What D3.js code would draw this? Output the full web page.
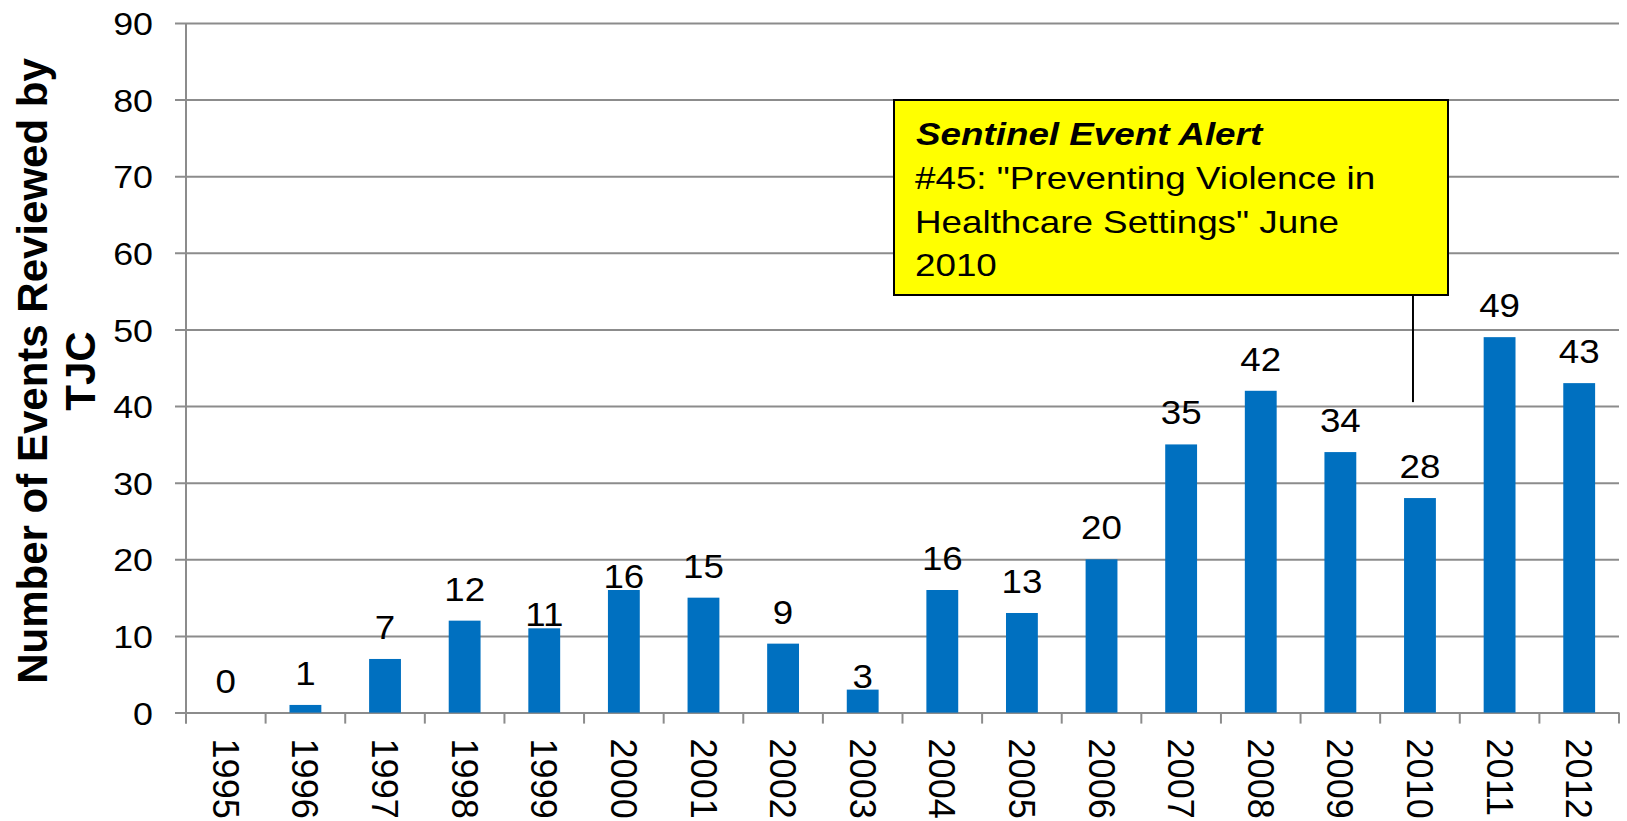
<!DOCTYPE html>
<html>
<head>
<meta charset="utf-8">
<script src="https://cdn.jsdelivr.net/npm/d3@7"></script>
<style>
  body { margin: 0; background: #fff; }
  text { font-family: "Liberation Sans", Arial, sans-serif; fill: #000; }
</style>
</head>
<body>
<div id="chart"></div>
<script>
// data
var years = ["1995", "1996", "1997", "1998", "1999", "2000", "2001", "2002", "2003",
             "2004", "2005", "2006", "2007", "2008", "2009", "2010", "2011", "2012"];
var events = [0, 1, 7, 12, 11, 16, 15, 9, 3, 16, 13, 20, 35, 42, 34, 28, 49, 43];
var yTicks = [0, 10, 20, 30, 40, 50, 60, 70, 80, 90];
var yTitle = ["Number of Events Reviewed by", "TJC"];
var noteTitle = "Sentinel Event Alert";
var noteLines = ["#45: \"Preventing Violence in", "Healthcare Settings\" June", "2010"];
var noteYear = "2010";
// labels that the original placed right on top of their bar
var hugLabels = ["1999", "2000", "2003"];

var W = 1627, H = 821;
var plotLeft = 186, plotRight = 1619, plotTop = 23, plotBottom = 712.6;
var gridColor = "#8c8c8c";

var svg = d3.select("#chart").append("svg")
    .attr("width", W)
    .attr("height", H);

var x = d3.scaleBand()
    .domain(years)
    .range([plotLeft, plotRight])
    .paddingInner(0.6)
    .paddingOuter(0.3);

var y = d3.scaleLinear()
    .domain([0, 90])
    .range([plotBottom, plotTop]);

// gridlines + y labels
var yAxis = d3.axisLeft(y).tickValues(yTicks).tickSize(0);
var yG = svg.append("g")
    .attr("transform", "translate(" + plotLeft + ",0)")
    .call(yAxis);
yG.select(".domain").remove();
yG.selectAll(".tick line")
    .attr("x1", -11)
    .attr("x2", plotRight - plotLeft)
    .attr("stroke", gridColor)
    .attr("stroke-width", 2);
yG.selectAll(".tick text")
    .attr("x", 0)
    .attr("dy", "0.36em")
    .attr("transform", "translate(-33,0) scale(1.12,1)")
    .style("font-size", "32px")
    .style("font-family", "'Liberation Sans', Arial, sans-serif")
    .attr("fill", "#000");

// y axis line
svg.append("line")
    .attr("x1", plotLeft).attr("x2", plotLeft)
    .attr("y1", plotTop).attr("y2", plotBottom + 11)
    .attr("stroke", gridColor)
    .attr("stroke-width", 2);

// x axis ticks at band boundaries
var step = x.step();
var bounds = d3.range(years.length + 1).map(i => plotLeft + i * step);
svg.append("g").selectAll("line")
    .data(bounds)
    .enter()
    .append("line")
    .attr("x1", d => d).attr("x2", d => d)
    .attr("y1", plotBottom).attr("y2", plotBottom + 11)
    .attr("stroke", gridColor)
    .attr("stroke-width", 2);

// bars
svg.append("g").selectAll("rect")
    .data(events)
    .enter()
    .append("rect")
    .attr("x", (d, i) => x(years[i]))
    .attr("y", d => y(d))
    .attr("width", x.bandwidth())
    .attr("height", d => plotBottom - y(d))
    .attr("fill", "#0070C0");

// value labels
svg.append("g").selectAll("text")
    .data(events)
    .enter()
    .append("text")
    .attr("text-anchor", "middle")
    .attr("transform", (d, i) => {
        var off = hugLabels.indexOf(years[i]) >= 0 ? 2 : 20;
        return "translate(" + (x(years[i]) + x.bandwidth() / 2) + "," + (y(d) - off) + ") scale(1.08,1)";
    })
    .style("font-size", "34px")
    .text(d => d);

// x labels, rotated
svg.append("g").selectAll("text")
    .data(years)
    .enter()
    .append("text")
    .attr("transform", d => "translate(" + (x(d) + x.bandwidth() / 2) + "," + (plotBottom + 26) + ") rotate(90)")
    .attr("dy", "0.36em")
    .style("font-size", "36px")
    .text(d => d);

// y title
var yt = svg.append("text")
    .attr("transform", "translate(47,371) rotate(-90)")
    .attr("text-anchor", "middle")
    .style("font-size", "42px")
    .style("font-weight", "bold");
yt.selectAll("tspan")
    .data(yTitle)
    .enter()
    .append("tspan")
    .attr("x", 0)
    .attr("y", (d, i) => i * 48)
    .text(d => d);

// annotation box with its pointer
var boxL = 894, boxR = 1448, boxT = 100, boxB = 295;
var lineX = x(noteYear) + x.bandwidth() / 2 - 7;
svg.append("line")
    .attr("x1", lineX).attr("x2", lineX)
    .attr("y1", boxB).attr("y2", y(40) - 4)
    .attr("stroke", "#000")
    .attr("stroke-width", 2);
svg.append("rect")
    .attr("x", boxL).attr("y", boxT)
    .attr("width", boxR - boxL).attr("height", boxB - boxT)
    .attr("fill", "#ffff00")
    .attr("stroke", "#000")
    .attr("stroke-width", 2);
svg.append("text")
    .attr("transform", "translate(916,145) scale(1.15,1)")
    .style("font-size", "32px")
    .style("font-weight", "bold")
    .style("font-style", "italic")
    .text(noteTitle);
svg.append("g").selectAll("text")
    .data(noteLines)
    .enter()
    .append("text")
    .attr("transform", (d, i) => "translate(915," + (189 + i * 43.5) + ") scale(1.15,1)")
    .style("font-size", "32px")
    .text(d => d);
</script>
</body>
</html>
